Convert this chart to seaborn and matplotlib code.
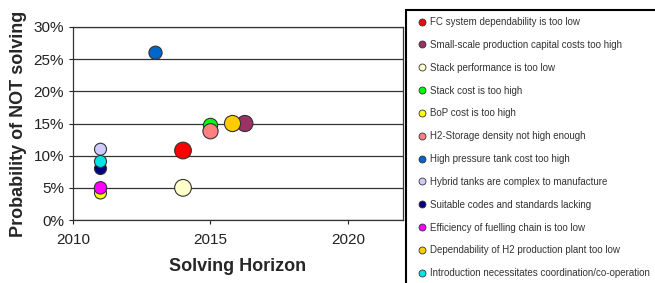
import matplotlib.pyplot as plt
import numpy as np
import pandas as pd
import seaborn as sns
from matplotlib.lines import Line2D
from matplotlib.patches import Rectangle
from matplotlib.ticker import PercentFormatter

issues = [
    "FC system dependability is too low",
    "Small-scale production capital costs too high",
    "Stack performance is too low",
    "Stack cost is too high",
    "BoP cost is too high",
    "H2-Storage density not high enough",
    "High pressure tank cost too high",
    "Hybrid tanks are complex to manufacture",
    "Suitable codes and standards lacking",
    "Efficiency of fuelling chain is too low",
    "Dependability of H2 production plant too low",
    "Introduction necessitates coordination/co-operation",
]
years = [2014, 2016.25, 2014, 2015, 2011, 2015, 2013, 2011, 2011, 2011, 2015.8, 2011]
probs = [0.108, 0.150, 0.050, 0.147, 0.042, 0.138, 0.260, 0.110, 0.080, 0.050, 0.150, 0.091]

colors = ["#FF0000", "#993366", "#FFFFCC", "#00FF00", "#FFFF00", "#FF8080",
          "#0066CC", "#CCCCFF", "#000080", "#FF00FF", "#FFCC00", "#00E5E5"]
dot_sizes = [145, 135, 145, 105, 75, 120, 90, 75, 75, 80, 135, 75]

sns.set_theme(style="white")
plt.rcParams["font.family"] = ["Liberation Sans", "DejaVu Sans"]

df = pd.DataFrame({"issue": issues, "year": years, "prob": probs})

fig = plt.figure(figsize=(6.55, 2.83), dpi=100)
ax = fig.add_axes([73 / 655, 1 - 220 / 283, 330 / 655, 193 / 283])

ax.grid(axis="y", color="#333333", linewidth=0.9)
ax.set_axisbelow(True)
sns.scatterplot(data=df, x="year", y="prob", hue="issue",
                palette=dict(zip(issues, colors)),
                size="issue", sizes=dict(zip(issues, dot_sizes)),
                edgecolor="#333333", linewidth=0.8, legend=False, ax=ax, zorder=3)

ax.set_xlim(2010, 2022)
ax.set_ylim(0, 0.30)
ax.set_xticks([2010, 2015, 2020])
ax.set_yticks(np.arange(0, 0.31, 0.05))
ax.yaxis.set_major_formatter(PercentFormatter(1.0, decimals=0))
ax.tick_params(axis="both", direction="out", length=3, width=0.8,
               colors="#222222", labelsize=11, bottom=True, left=True)
ax.tick_params(axis="x", pad=6)
for s in ax.spines.values():
    s.set_color("#333333")
    s.set_linewidth(0.9)
ax.set_xlabel("Solving Horizon", fontsize=13, fontweight="bold", labelpad=8)
ax.set_ylabel("Probability of NOT solving", fontsize=13, fontweight="bold", labelpad=5)

handles = [Line2D([], [], linestyle="none", marker="o", markersize=5,
                  markerfacecolor=c, markeredgecolor="#333333", markeredgewidth=0.6)
           for c in colors]
fig.legend(handles, issues, loc="upper left", bbox_to_anchor=(418 / 655, 1 - 17 / 283),
           frameon=False, fontsize=7, borderpad=0, borderaxespad=0,
           handlelength=0.8, handletextpad=0.45, labelspacing=1.32,
           labelcolor="#333333")

fig.patches.append(Rectangle((406 / 655, -0.2), 0.6, 1.2 - 10 / 283, fill=False,
                             edgecolor="black", linewidth=1.5,
                             transform=fig.transFigure, clip_on=False))

plt.savefig("out.png", dpi=100)
